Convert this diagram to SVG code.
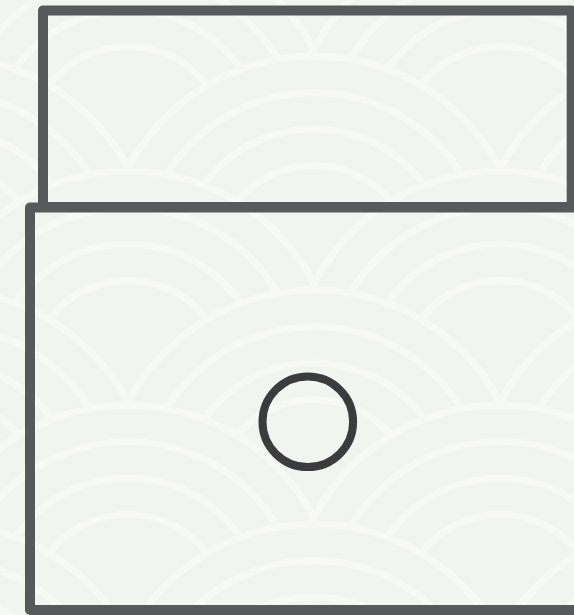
<svg xmlns="http://www.w3.org/2000/svg" xmlns:xlink="http://www.w3.org/1999/xlink" width="574" height="615" viewBox="0 0 574 615">
<style>
.rim{fill:#f2f4ef;stroke:#f8f9f5;stroke-width:7}
.ring{fill:none;stroke:#f8f9f5;stroke-width:7}
.box{fill:none;stroke:#58595b;stroke-width:10;stroke-linejoin:round}
.dot{fill:none;stroke:#3c3c3e;stroke-width:8}
</style>
<defs>
<g id="sc">
<circle r="210" class="rim"/>
<circle r="173.5" class="ring"/>
<circle r="137" class="ring"/>
<circle r="100.5" class="ring"/>
</g>
</defs>
<rect width="574" height="615" fill="#f2f4ef"/>
<g id="background">
<use xlink:href="#sc" x="-58" y="-202"/><use xlink:href="#sc" x="314" y="-202"/><use xlink:href="#sc" x="686" y="-202"/>
<use xlink:href="#sc" x="-244" y="-87"/><use xlink:href="#sc" x="128" y="-87"/><use xlink:href="#sc" x="500" y="-87"/>
<use xlink:href="#sc" x="-58" y="32"/><use xlink:href="#sc" x="314" y="32"/><use xlink:href="#sc" x="686" y="32"/>
<use xlink:href="#sc" x="-244" y="147"/><use xlink:href="#sc" x="128" y="147"/><use xlink:href="#sc" x="500" y="147"/>
<use xlink:href="#sc" x="-58" y="266"/><use xlink:href="#sc" x="314" y="266"/><use xlink:href="#sc" x="686" y="266"/>
<use xlink:href="#sc" x="-244" y="381"/><use xlink:href="#sc" x="128" y="381"/><use xlink:href="#sc" x="500" y="381"/>
<use xlink:href="#sc" x="-58" y="500"/><use xlink:href="#sc" x="314" y="500"/><use xlink:href="#sc" x="686" y="500"/>
<use xlink:href="#sc" x="-244" y="615"/><use xlink:href="#sc" x="128" y="615"/><use xlink:href="#sc" x="500" y="615"/>
<use xlink:href="#sc" x="-58" y="734"/><use xlink:href="#sc" x="314" y="734"/><use xlink:href="#sc" x="686" y="734"/>
</g>
<g id="connectors"/>
<g id="top-box">
<rect class="box" x="43" y="10.5" width="528.7" height="196.5"/>
</g>
<g id="bottom-box">
<rect class="box" x="30" y="207.5" width="560" height="402.5"/>
</g>
<g id="circle-node">
<circle class="dot" cx="307.8" cy="421.8" r="45.3"/>
</g>
</svg>
